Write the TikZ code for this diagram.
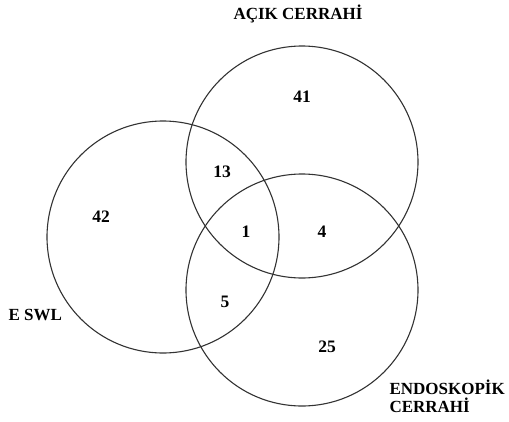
\documentclass[tikz,border=0pt]{standalone}
\usepackage{fontspec}
\setmainfont{Liberation Serif}
\begin{document}
\begin{tikzpicture}[x=1pt,y=-1pt,
    set/.style={circle,draw=black!80,line width=1.1pt,minimum size=232pt,inner sep=0pt},
    num/.style={font=\fontsize{17.5}{17.5}\selectfont\bfseries},
    lbl/.style={font=\fontsize{17}{18}\selectfont\bfseries,align=left}]
    \useasboundingbox (0,0) rectangle (509,421);
    % sets
    \node[set] (eswl) at (163,237) {};
    \node[set] (acik) at (302,162) {};
    \node[set] (endo) at (302,290) {};
    % labels
    \node[lbl] (lacik) at (298,14) {AÇIK CERRAHİ};
    \node[lbl,anchor=west] (leswl) at (5,315) {E SWL};
    \node[lbl,anchor=west] (lendo) at (386,396) {ENDOSKOPİK\\CERRAHİ};
    % counts
    \node[num] (n41) at (302,97) {41};
    \node[num] (n13) at (222,172) {13};
    \node[num] (n42) at (101,217) {42};
    \node[num] (n1) at (246,232) {1};
    \node[num] (n4) at (322,232) {4};
    \node[num] (n5) at (225,302) {5};
    \node[num] (n25) at (327,347) {25};
\end{tikzpicture}
\end{document}
